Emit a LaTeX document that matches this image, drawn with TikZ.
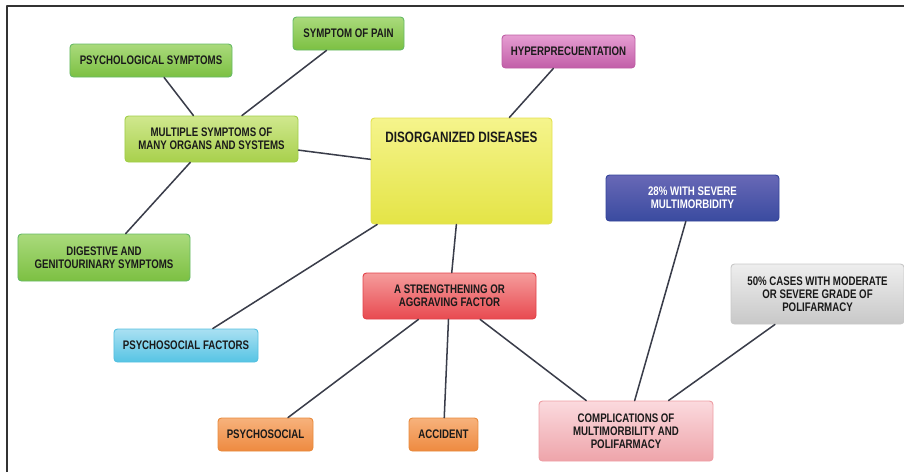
\documentclass[tikz,border=0pt]{standalone}
\usepackage{fontspec}
\setmainfont{Liberation Sans}[FakeStretch=0.78]
\usetikzlibrary{calc}

\definecolor{linegray}{HTML}{3A3D4A}
\definecolor{textgray}{HTML}{1A1A1A}

\tikzset{
  box/.style={rounded corners=3pt, draw, line width=0.8pt, align=center,
    text=textgray, font=\fontsize{10.6}{11.3}\selectfont\bfseries, inner sep=2pt},
  greenbox/.style={box, draw=green!55!black!60!white, top color={rgb,255:red,170;green,218;blue,124}, bottom color={rgb,255:red,124;green,192;blue,66}},
  limebox/.style={box, draw={rgb,255:red,160;green,206;blue,72}, top color={rgb,255:red,208;green,232;blue,142}, bottom color={rgb,255:red,168;green,208;blue,76}},
  yellowbox/.style={box, draw={rgb,255:red,226;green,224;blue,80}, top color={rgb,255:red,245;green,244;blue,140}, bottom color={rgb,255:red,228;green,228;blue,70}},
  pinkbox/.style={box, draw={rgb,255:red,190;green,94;blue,164}, top color={rgb,255:red,230;green,158;blue,210}, bottom color={rgb,255:red,194;green,94;blue,168}},
  bluebox/.style={box, text=white, draw={rgb,255:red,52;green,68;blue,154}, top color={rgb,255:red,104;green,104;blue,182}, bottom color={rgb,255:red,58;green,75;blue,160}},
  graybox/.style={box, draw={rgb,255:red,200;green,200;blue,200}, top color={rgb,255:red,238;green,238;blue,238}, bottom color={rgb,255:red,200;green,200;blue,200}},
  redbox/.style={box, draw={rgb,255:red,226;green,66;blue,74}, top color={rgb,255:red,245;green,156;blue,156}, bottom color={rgb,255:red,232;green,74;blue,80}},
  cyanbox/.style={box, draw={rgb,255:red,86;green,192;blue,224}, top color={rgb,255:red,170;green,224;blue,242}, bottom color={rgb,255:red,86;green,196;blue,228}},
  orangebox/.style={box, draw={rgb,255:red,232;green,138;blue,60}, top color={rgb,255:red,247;green,178;blue,124}, bottom color={rgb,255:red,238;green,138;blue,64}},
  rosebox/.style={box, draw={rgb,255:red,238;green,158;blue,164}, top color={rgb,255:red,251;green,218;blue,222}, bottom color={rgb,255:red,238;green,164;blue,170}},
  link/.style={draw=linegray, line width=1.3pt, line cap=round}
}

\begin{document}
\begin{tikzpicture}[line join=round, x=0.03cm, y=-0.03cm]
\useasboundingbox (0,0) rectangle (904,472);

\draw[line width=1.2pt, color=black!80] (7,472) -- (7,6) -- (904,6);

\node[greenbox, minimum width=4.86cm, minimum height=0.99cm] (psy) at (151,60.5) {PSYCHOLOGICAL SYMPTOMS};
\node[greenbox, minimum width=3.33cm, minimum height=0.99cm] (pain) at (348.5,33.5) {SYMPTOM OF PAIN};
\node[pinkbox, minimum width=3.99cm, minimum height=0.99cm] (hyper) at (568.5,51.5) {HYPERPRECUENTATION};
\node[limebox, minimum width=5.19cm, minimum height=1.38cm] (multi) at (211.5,139) {MULTIPLE SYMPTOMS OF\\MANY ORGANS AND SYSTEMS};
\node[yellowbox, minimum width=5.43cm, minimum height=3.18cm,
  label={[anchor=north, yshift=-0.3cm, text=textgray, font=\fontsize{12.8}{14}\selectfont\bfseries]north:DISORGANIZED DISEASES}] (dis) at (461.5,171) {};
\node[bluebox, minimum width=5.19cm, minimum height=1.38cm] (severe) at (692.5,198) {28\% WITH SEVERE\\MULTIMORBIDITY};
\node[greenbox, minimum width=5.16cm, minimum height=1.41cm] (dig) at (104,257.5) {DIGESTIVE AND\\GENITOURINARY SYMPTOMS};
\node[graybox, minimum width=5.19cm, minimum height=1.8cm] (half) at (817.5,294) {50\% CASES WITH MODERATE\\OR SEVERE GRADE OF\\POLIFARMACY};
\node[redbox, minimum width=5.19cm, minimum height=1.38cm] (factor) at (449.5,296) {A STRENGTHENING OR\\AGGRAVING FACTOR};
\node[cyanbox, minimum width=4.32cm, minimum height=0.99cm] (psyfac) at (186,345.5) {PSYCHOSOCIAL FACTORS};
\node[orangebox, minimum width=2.85cm, minimum height=0.99cm] (psysoc) at (265.5,434.5) {PSYCHOSOCIAL};
\node[orangebox, minimum width=2.07cm, minimum height=0.99cm] (acc) at (443.5,434.5) {ACCIDENT};
\node[rosebox, minimum width=5.22cm, minimum height=1.8cm] (comp) at (626,431) {COMPLICATIONS OF\\MULTIMORBILITY AND\\POLIFARMACY};

\draw[link] (multi) -- (psy);
\draw[link] (multi) -- (pain);
\draw[link] (multi) -- (dis);
\draw[link] (multi) -- (dig);
\draw[link] (dis) -- (hyper);
\draw[link] (dis) -- (psyfac);
\draw[link] (dis) -- (factor);
\draw[link] (factor) -- (psysoc);
\draw[link] (factor) -- (acc);
\draw[link] (factor) -- (comp);
\draw[link] (severe) -- (comp);
\draw[link] (half) -- (comp);
\end{tikzpicture}
\end{document}
